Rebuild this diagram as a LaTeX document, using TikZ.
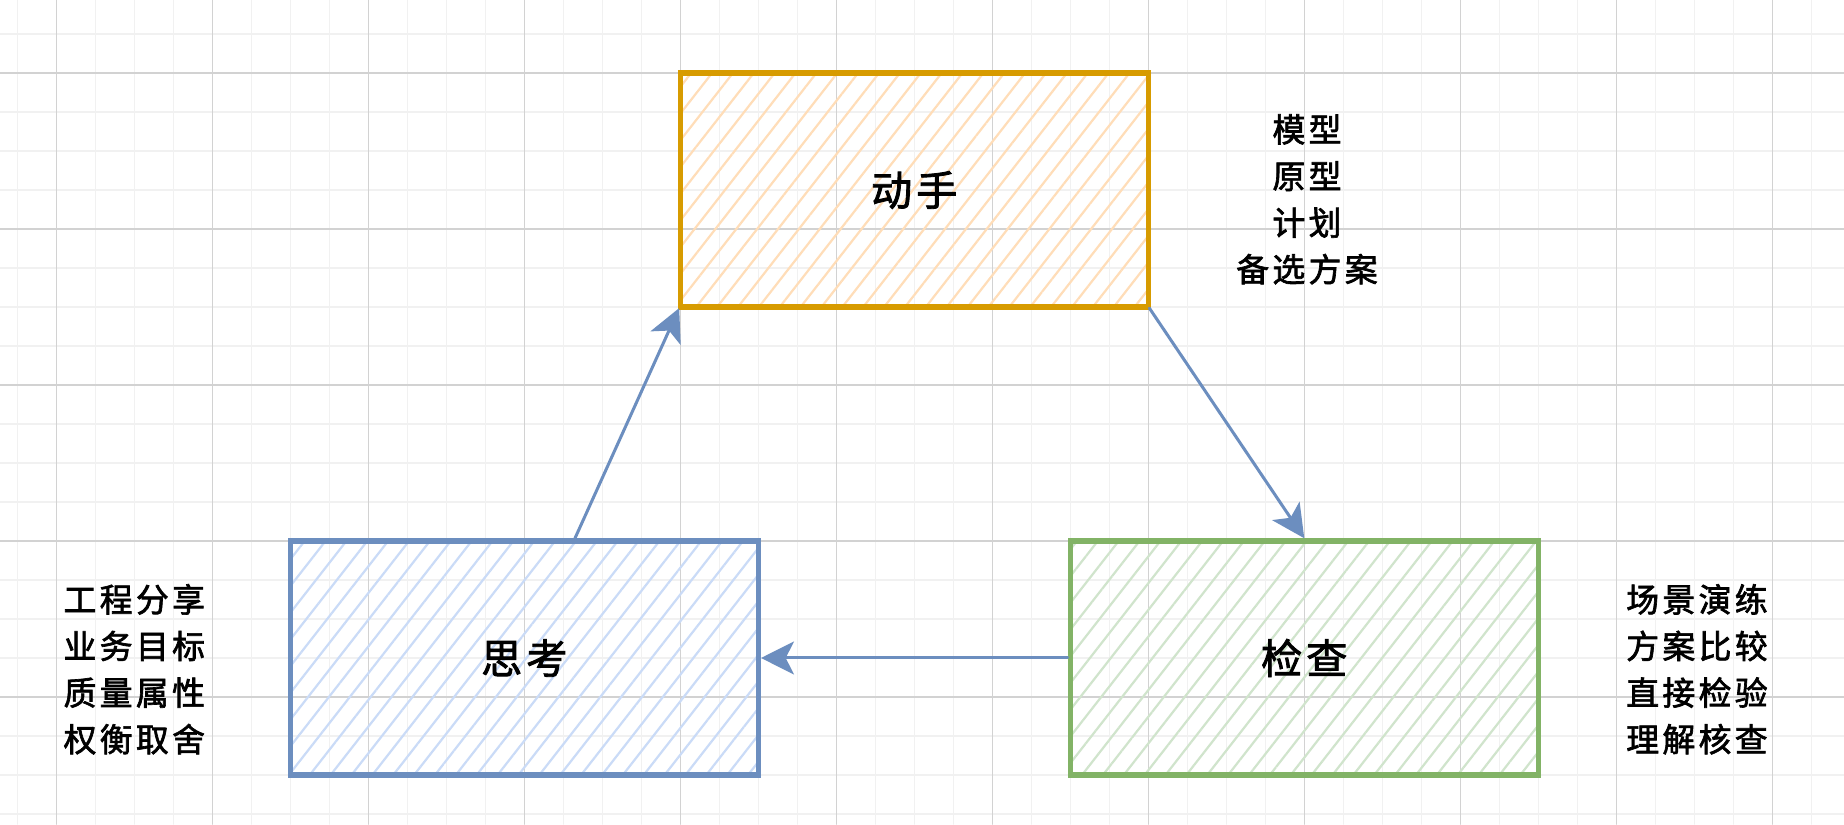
\documentclass[tikz,border=0pt]{standalone}
\usepackage{fontspec}
\newfontfamily\cjk{Noto Sans CJK SC}[FakeBold=2,LetterSpace=10]
\usetikzlibrary{arrows.meta,patterns.meta}
\definecolor{gridmajor}{HTML}{D2D2D2}
\definecolor{gridminor}{HTML}{F1F1F1}
\definecolor{actline}{HTML}{D79B00}
\definecolor{acthatch}{HTML}{FFDDB8}
\definecolor{thinkline}{HTML}{6C8EBF}
\definecolor{thinkhatch}{HTML}{CADBF7}
\definecolor{checkline}{HTML}{82B366}
\definecolor{checkhatch}{HTML}{D0E4CC}

\begin{document}
\begin{tikzpicture}[x=0.5cm,y=-0.5cm,line cap=round,
	stage/.style={draw=#1line,line width=2pt,pattern={Lines[angle=52,distance=6pt,line width=0.8pt]},pattern color=#1hatch,minimum width=6cm,minimum height=3cm,font=\cjk\fontsize{15}{15}\selectfont},
	notes/.style={align=center,font=\cjk\fontsize{12}{17}\selectfont},
	flow/.style={draw=thinkline,line width=1.1pt,-{Stealth[length=12pt,width=12pt,inset=3pt]}}]
	%% Canvas
	\useasboundingbox[fill=white] (-0.444,-0.872) rectangle (46.84,20.26);
	%% Grid
	\foreach \i in {0,...,46} \draw[gridminor,line width=0.5pt] (\i,-0.872) -- (\i,20.26);
	\foreach \j in {0,...,20} \draw[gridminor,line width=0.5pt] (-0.444,\j) -- (46.84,\j);
	\foreach \i in {1,5,...,45} \draw[gridmajor,line width=0.5pt] (\i,-0.872) -- (\i,20.26);
	\foreach \j in {1,5,...,17} \draw[gridmajor,line width=0.5pt] (-0.444,\j) -- (46.84,\j);
	%% Stages
	\node[stage=act] (act) at (23,4) {动手};
	\node[stage=think] (think) at (13,16) {思考};
	\node[stage=check] (check) at (33,16) {检查};
	%% Notes
	\node[notes] (actnotes) at (33.07,4.24) {模型\\原型\\计划\\备选方案};
	\node[notes] (thinknotes) at (3,16.29) {工程分享\\业务目标\\质量属性\\权衡取舍};
	\node[notes] (checknotes) at (43.07,16.29) {场景演练\\方案比较\\直接检验\\理解核查};
	%% Cycle
	\draw[flow] ([xshift=0.65cm]think.north) -- (act.south west);
	\draw[flow] (act.south east) -- (check.north);
	\draw[flow] (check.west) -- (think.east);
\end{tikzpicture}
\end{document}
